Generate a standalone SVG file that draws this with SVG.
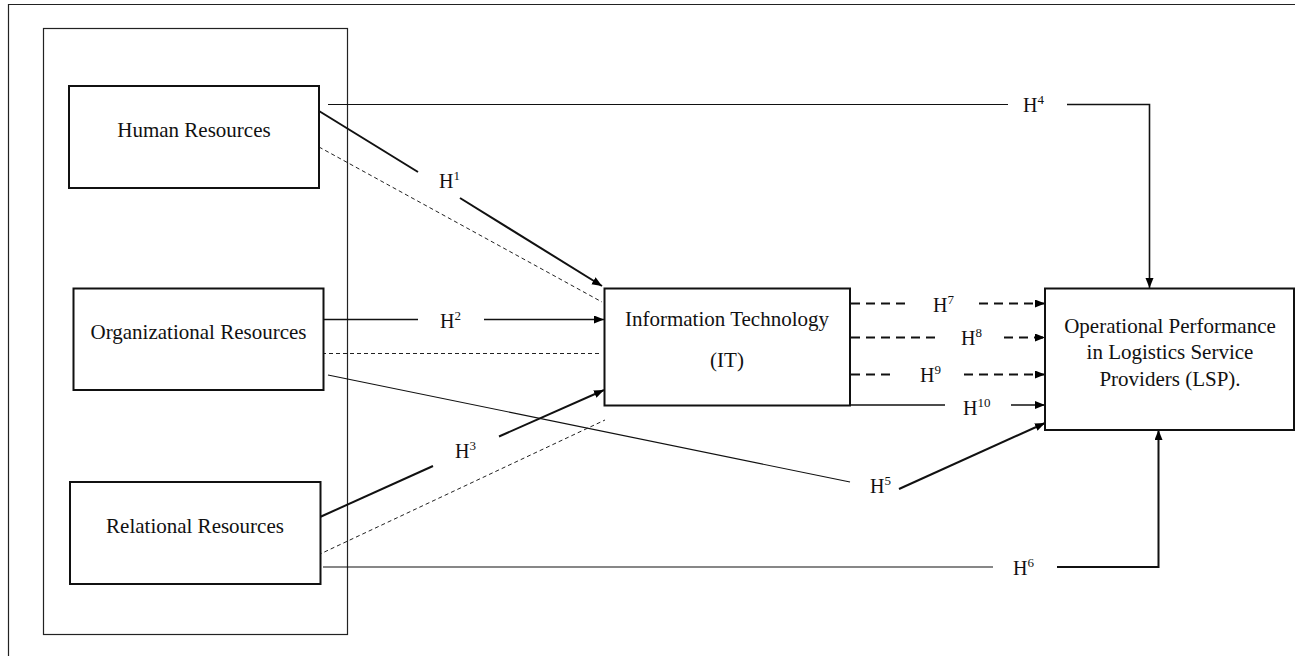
<svg xmlns="http://www.w3.org/2000/svg" width="1300" height="656" viewBox="0 0 1300 656">
  <style>
    .box { fill: #fff; stroke: #111; stroke-width: 2; }
    .frame { fill: none; stroke: #222; stroke-width: 1.2; }
    .node-text { font-family: "Liberation Serif", "Times New Roman", serif; font-size: 21px; fill: #111; text-anchor: middle; }
    .lbl { font-family: "Liberation Serif", "Times New Roman", serif; font-size: 20px; fill: #111; }
    .sup { font-size: 13px; }
    .thin { fill: none; stroke: #111; stroke-width: 1.1; }
    .solid { fill: none; stroke: #111; stroke-width: 2; }
    .mid { fill: none; stroke: #111; stroke-width: 1.6; }
    .dash-thin { fill: none; stroke: #222; stroke-width: 1; stroke-dasharray: 4 3; }
    .dash-bold { fill: none; stroke: #111; stroke-width: 1.8; stroke-dasharray: 9 6; }
  </style>
  <defs>
    <marker id="arr" markerUnits="userSpaceOnUse" markerWidth="11" markerHeight="9" refX="10" refY="4" orient="auto">
      <path d="M0,0 L10,4 L0,8 z" fill="#000"/>
    </marker>
  </defs>

  <rect width="1300" height="656" fill="#fff"/>

  <!-- page frame (top and left edges) -->
  <path class="frame" d="M8.5,656 L8.5,4.5 L1295,4.5"/>

  <!-- resource container -->
  <rect id="resources-container" class="frame" x="43.5" y="28.5" width="304" height="606"/>

  <!-- connectors -->
  <g id="connectors">
    <!-- H1: Human Resources -> IT -->
    <line class="solid" x1="319" y1="111" x2="418" y2="172"/>
    <line class="solid" x1="460" y1="198" x2="602" y2="286" marker-end="url(#arr)"/>
    <line class="dash-thin" x1="319" y1="147" x2="602" y2="302"/>

    <!-- H2: Organizational Resources -> IT -->
    <line class="mid" x1="323" y1="319.5" x2="418" y2="319.5"/>
    <line class="mid" x1="484" y1="319.5" x2="604" y2="319.5" marker-end="url(#arr)"/>
    <line class="dash-thin" x1="322" y1="353.5" x2="602" y2="353.5"/>

    <!-- H3: Relational Resources -> IT -->
    <line class="solid" x1="320" y1="517" x2="433" y2="466"/>
    <line class="solid" x1="499" y1="436.5" x2="604" y2="390" marker-end="url(#arr)"/>
    <line class="dash-thin" x1="318" y1="555" x2="605" y2="420"/>

    <!-- H4: Human Resources -> LSP -->
    <line class="thin" x1="328" y1="104.5" x2="1008" y2="104.5"/>
    <path class="mid" d="M1067,104.5 L1149.5,104.5 L1149.5,288" marker-end="url(#arr)"/>

    <!-- H5: Organizational Resources -> LSP -->
    <line class="thin" x1="328" y1="375" x2="850" y2="482"/>
    <line class="solid" x1="899" y1="489" x2="1045" y2="423" marker-end="url(#arr)"/>

    <!-- H6: Relational Resources -> LSP -->
    <line class="thin" x1="323" y1="567" x2="993" y2="567"/>
    <path class="solid" d="M1057,567 L1158.5,567 L1158.5,430" marker-end="url(#arr)"/>

    <!-- H7 .. H10: IT -> LSP -->
    <line class="dash-bold" x1="851" y1="303.5" x2="908" y2="303.5"/>
    <line class="dash-bold" x1="979" y1="303.5" x2="1045" y2="303.5" marker-end="url(#arr)"/>
    <line class="dash-bold" x1="851" y1="337.5" x2="938" y2="337.5"/>
    <line class="dash-bold" x1="1004" y1="337.5" x2="1045" y2="337.5" marker-end="url(#arr)"/>
    <line class="dash-bold" x1="851" y1="374.5" x2="896" y2="374.5"/>
    <line class="dash-bold" x1="964" y1="374.5" x2="1045" y2="374.5" marker-end="url(#arr)"/>
    <line class="mid" x1="850" y1="405" x2="945" y2="405"/>
    <line class="mid" x1="1011" y1="405" x2="1045" y2="405" marker-end="url(#arr)"/>

    <!-- hypothesis labels -->
    <text class="lbl" x="439" y="188">H<tspan class="sup" dy="-8">1</tspan></text>
    <text class="lbl" x="440" y="328">H<tspan class="sup" dy="-8">2</tspan></text>
    <text class="lbl" x="455" y="458">H<tspan class="sup" dy="-8">3</tspan></text>
    <text class="lbl" x="1023" y="112">H<tspan class="sup" dy="-8">4</tspan></text>
    <text class="lbl" x="870" y="493">H<tspan class="sup" dy="-8">5</tspan></text>
    <text class="lbl" x="1013" y="575">H<tspan class="sup" dy="-8">6</tspan></text>
    <text class="lbl" x="933" y="312">H<tspan class="sup" dy="-8">7</tspan></text>
    <text class="lbl" x="961" y="345">H<tspan class="sup" dy="-8">8</tspan></text>
    <text class="lbl" x="920" y="382">H<tspan class="sup" dy="-8">9</tspan></text>
    <text class="lbl" x="963" y="415">H<tspan class="sup" dy="-8">10</tspan></text>
  </g>

  <!-- nodes -->
  <g id="human-resources">
    <rect class="box" x="69" y="86" width="250" height="102"/>
    <text class="node-text" x="194" y="137">Human Resources</text>
  </g>
  <g id="organizational-resources">
    <rect class="box" x="73.5" y="288.5" width="250" height="101.5"/>
    <text class="node-text" x="198.5" y="339">Organizational Resources</text>
  </g>
  <g id="relational-resources">
    <rect class="box" x="70" y="482" width="250.5" height="102"/>
    <text class="node-text" x="195" y="533">Relational Resources</text>
  </g>
  <g id="information-technology">
    <rect class="box" x="604.5" y="288.5" width="245.5" height="117"/>
    <text class="node-text" x="727" y="326">Information Technology</text>
    <text class="node-text" x="727" y="367">(IT)</text>
  </g>
  <g id="operational-performance">
    <rect class="box" x="1045" y="288.5" width="249" height="141.5"/>
    <text class="node-text" x="1170" y="332.5">Operational Performance</text>
    <text class="node-text" x="1170" y="359">in Logistics Service</text>
    <text class="node-text" x="1170" y="385.5">Providers (LSP).</text>
  </g>
</svg>
